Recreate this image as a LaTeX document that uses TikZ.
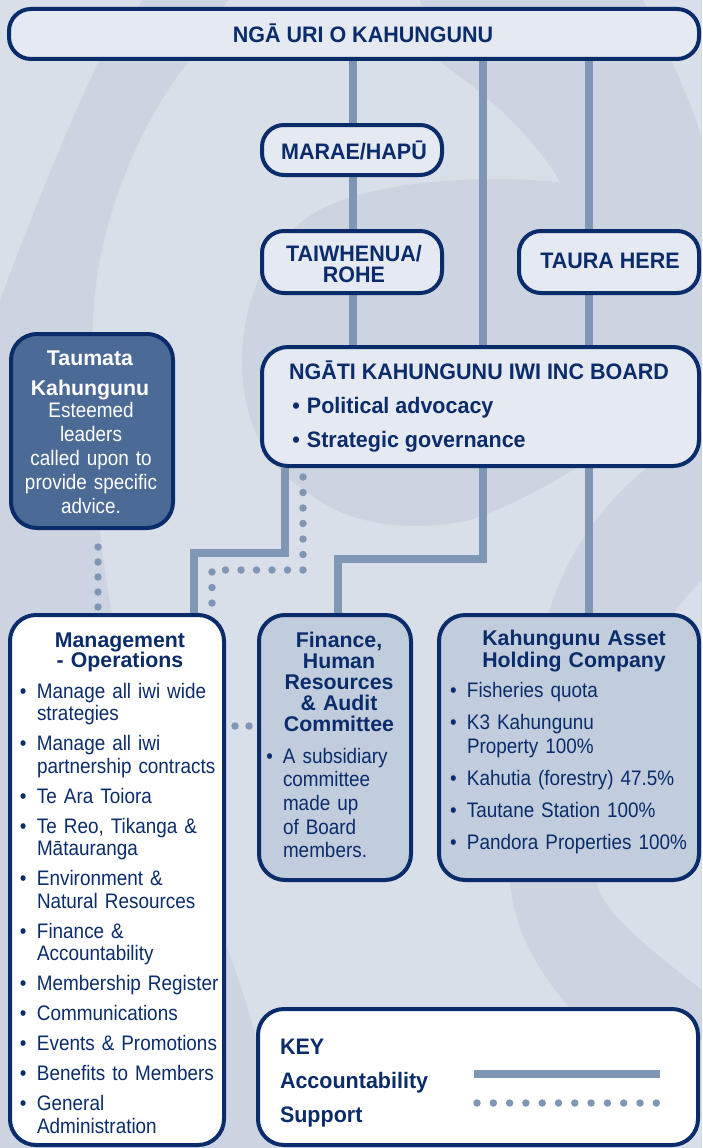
\documentclass[tikz,border=0pt]{standalone}
\usepackage{fontspec}
\setmainfont{Liberation Sans}
\newfontfamily\narfam[FakeStretch=0.9]{Liberation Sans}
\newfontfamily\narbfam[FakeStretch=0.96]{Liberation Sans}
\usetikzlibrary{calc}
\pgfdeclarelayer{bg}
\pgfsetlayers{bg,main}
\definecolor{navy}{RGB}{11,44,107}
\definecolor{conn}{RGB}{128,150,181}
\definecolor{boxlight}{RGB}{229,233,242}
\definecolor{finfill}{RGB}{193,204,220}
\definecolor{taumfill}{RGB}{76,106,150}
\definecolor{bgbase}{RGB}{217,223,233}
\definecolor{bgdark}{RGB}{205,212,225}
\newcommand{\myNB}{\narbfam\bfseries\fontsize{22.4}{21}\selectfont}
\newcommand{\myHB}{\bfseries\fontsize{21.3}{21}\selectfont}
\newcommand{\myBody}{\narfam\fontsize{21}{22.5}\selectfont}
\newcommand{\mybul}[1]{\leavevmode\llap{\textbullet\hspace{#1}}}
\begin{document}
\begin{tikzpicture}[x=1pt,y=-1pt,
  box/.style={draw=navy, line width=4pt, rounded corners=22pt, inner sep=0pt},
  bigbox/.style={box, rounded corners=26pt},
  txt/.style={inner sep=0pt, outer sep=0pt, text=navy},
  acc/.style={draw=conn, line width=7.5pt},
  support/.style={draw=conn, line width=7.5pt, line cap=round, dash pattern=on 0pt off #1},
  support/.default=15.5pt]
\useasboundingbox (0,0) rectangle (702,1148);

% ---------- background swirl ----------
\begin{pgfonlayer}{bg}
\fill[bgbase] (0,0) rectangle (702,1148);
% left band
\fill[bgdark] (143,0) -- (228,0) .. controls (212,25) and (200,45) .. (188,62)
  .. controls (150,110) and (110,190) .. (97,277)
  .. controls (88,340) and (90,470) .. (105,570)
  .. controls (125,720) and (190,860) .. (228,950)
  .. controls (250,1010) and (270,1080) .. (278,1148)
  -- (0,1148) -- (0,300)
  .. controls (30,220) and (70,120) .. (100,59) -- cycle;
% fin + blob
\fill[bgdark] (420,0) -- (643,0) .. controls (665,45) and (688,95) .. (702,137)
  -- (702,395) .. controls (640,420) and (560,490) .. (470,520)
  .. controls (400,535) and (340,520) .. (309,493)
  .. controls (270,470) and (245,430) .. (242,370)
  .. controls (240,300) and (270,230) .. (330,205)
  .. controls (390,180) and (480,175) .. (560,182)
  .. controls (530,130) and (480,90) .. (437,60) -- cycle;
% lower right band
\fill[bgdark] (702,435) .. controls (640,460) and (570,530) .. (547,620)
  .. controls (525,700) and (505,800) .. (510,880)
  .. controls (515,950) and (560,1000) .. (600,1040)
  -- (702,1040) -- (702,990)
  .. controls (650,950) and (600,910) .. (597,882)
  .. controls (595,760) and (640,640) .. (702,580) -- cycle;
\end{pgfonlayer}

% ---------- boxes ----------
\node[box, fill=boxlight, minimum width=690pt, minimum height=50pt] (top) at (354,34) {};
\node[box, fill=boxlight, minimum width=180pt, minimum height=50pt] (marae) at (352,150) {};
\node[box, fill=boxlight, minimum width=180pt, minimum height=62pt] (taiw) at (352,262) {};
\node[box, fill=boxlight, minimum width=180pt, minimum height=62pt] (taura) at (609,262) {};
\node[bigbox, fill=boxlight, minimum width=437pt, minimum height=119pt] (board) at (480.5,406.5) {};
\node[bigbox, fill=taumfill, minimum width=162pt, minimum height=194pt] (taumata) at (92,431) {};
\node[bigbox, fill=white, minimum width=214pt, minimum height=530pt] (mgmt) at (117,880) {};
\node[bigbox, fill=finfill, minimum width=152pt, minimum height=265pt] (fin) at (335,747.5) {};
\node[bigbox, fill=finfill, minimum width=260pt, minimum height=265pt] (asset) at (569,747.5) {};
\node[bigbox, fill=white, minimum width=440pt, minimum height=136pt] (key) at (478,1077) {};

% ---------- texts ----------
\node[txt, anchor=base, font=\myNB] (ttop) at (363,42.5) {NGĀ URI O KAHUNGUNU};
\node[txt, anchor=base, font=\myNB] (tmarae) at (354,159) {MARAE/HAPŪ};
\node[txt, anchor=base, font=\myNB, text width=180pt, align=center] (ttaiw) at (354,261) {TAIWHENUA/\\ROHE};
\node[txt, anchor=base, font=\myNB] (ttaura) at (610,268) {TAURA HERE};
\node[txt, anchor=base west, font=\myNB] (tboard) at (289,379) {NGĀTI KAHUNGUNU IWI INC BOARD};
\node[txt, anchor=base west, font=\myNB] (tpol) at (307,413) {\mybul{7pt}Political advocacy};
\node[txt, anchor=base west, font=\myNB] (tstr) at (307,447) {\mybul{7pt}Strategic governance};

\node[txt, text=white, anchor=base, text width=165pt, align=center,
  font=\bfseries\fontsize{21.3}{30}\selectfont] (ttau1) at (90,365) {Taumata\\Kahungunu};
\node[txt, text=white, anchor=base, text width=165pt, align=center,
  font=\narfam\fontsize{21}{24}\selectfont] (ttau2) at (91,417)
  {Esteemed\\leaders\\called upon to\\provide specific\\advice.};

\node[txt, anchor=base, text width=200pt, align=center,
  font=\bfseries\fontsize{21.3}{20.5}\selectfont] (tmgh) at (120,647) {Management\\- Operations};
\node[txt, anchor=base west, text width=190pt, align=left, font=\myBody] (tmgl) at (37,698)
 {\mybul{10.5pt}Manage all iwi wide\\strategies\\[7.5pt]
  \mybul{10.5pt}Manage all iwi\\partnership contracts\\[7.5pt]
  \mybul{10.5pt}Te Ara Toiora\\[7.5pt]
  \mybul{10.5pt}Te Reo, Tikanga \&\\Mātauranga\\[7.5pt]
  \mybul{10.5pt}Environment \&\\Natural Resources\\[7.5pt]
  \mybul{10.5pt}Finance \&\\Accountability\\[7.5pt]
  \mybul{10.5pt}Membership Register\\[7.5pt]
  \mybul{10.5pt}Communications\\[7.5pt]
  \mybul{10.5pt}Events \& Promotions\\[7.5pt]
  \mybul{10.5pt}Benefits to Members\\[7.5pt]
  \mybul{10.5pt}General\\Administration};

\node[txt, anchor=base, text width=150pt, align=center,
  font=\bfseries\fontsize{21.3}{21}\selectfont] (tfinh) at (339,647)
  {Finance,\\Human\\Resources\\\& Audit\\Committee};
\node[txt, anchor=base west, text width=125pt, align=left,
  font=\narfam\fontsize{21}{23.7}\selectfont] (tfinl) at (283,763)
  {\mybul{10pt}A subsidiary\\committee\\made up\\of Board\\members.};

\node[txt, anchor=base, text width=250pt, align=center,
  font=\bfseries\fontsize{21.3}{22}\selectfont] (tash) at (574,645)
  {Kahungunu Asset\\Holding Company};
\node[txt, anchor=base west, text width=230pt, align=left,
  font=\narfam\fontsize{21}{24}\selectfont] (tasl) at (467,697)
  {\mybul{10.3pt}Fisheries quota\\[8pt]
   \mybul{10.3pt}K3 Kahungunu\\Property 100\%\\[8.2pt]
   \mybul{10.3pt}Kahutia (forestry) 47.5\%\\[8.2pt]
   \mybul{10.3pt}Tautane Station 100\%\\[8.2pt]
   \mybul{10.3pt}Pandora Properties 100\%};

\node[txt, anchor=base west, font=\myNB] (tkey) at (280,1054) {KEY};
\node[txt, anchor=base west, font=\myNB] (tacc) at (280,1088) {Accountability};
\node[txt, anchor=base west, font=\myNB] (tsup) at (280,1122) {Support};

% ---------- connectors ----------
\coordinate (xA) at (353,0);
\coordinate (xB) at (483,0);
\coordinate (xC) at (589,0);
\coordinate (xD) at (285,0);
\coordinate (xE) at (194,0);
\coordinate (xF) at (338,0);
\coordinate (xG) at (303,0);
\coordinate (xH) at (212,0);
\coordinate (xT) at (98,0);
\coordinate (yD) at (0,553);
\coordinate (yF) at (0,559);
\coordinate (yG) at (0,570);
\coordinate (yM) at (0,726);
\begin{pgfonlayer}{bg}
\draw[acc] (top.south -| xA) -- (marae.north -| xA);
\draw[acc] (marae.south -| xA) -- (taiw.north -| xA);
\draw[acc] (taiw.south -| xA) -- (board.north -| xA);
\draw[acc] (top.south -| xB) -- (board.north -| xB);
\draw[acc] (top.south -| xC) -- (taura.north -| xC);
\draw[acc] (taura.south -| xC) -- (board.north -| xC);
\draw[acc] (board.south -| xC) -- (asset.north -| xC);
\draw[acc] (board.south -| xD) -- (xD |- yD) -- (xE |- yD) -- (mgmt.north -| xE);
\draw[acc] (board.south -| xB) -- (xB |- yF) -- (xF |- yF) -- (fin.north -| xF);
\draw[support=15pt, shorten <=17pt, shorten >=5pt] (taumata.south -| xT) -- (mgmt.north -| xT);
\draw[support=15.5pt, shorten <=9pt, shorten >=8pt] (board.south -| xG) -- (xG |- yG) -- (xH |- yG) -- (mgmt.north -| xH);
\draw[support=14pt, shorten <=9pt, shorten >=7pt] (mgmt.east |- yM) -- (fin.west |- yM);
\end{pgfonlayer}

% ---------- key legend ----------
\coordinate (ka) at (474,1074);
\coordinate (kb) at (660,1074);
\coordinate (kc) at (477,1103);
\coordinate (kd) at (657.5,1103);
\draw[draw=conn, line width=8pt] (ka) -- (kb);
\draw[support=16.3pt] (kc) -- (kd);
\end{tikzpicture}
\end{document}
